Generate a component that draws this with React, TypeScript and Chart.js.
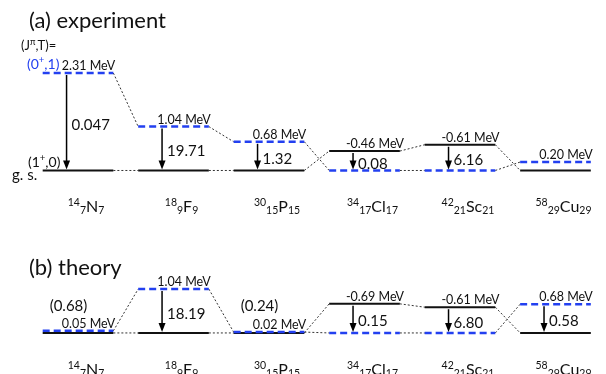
import React, { useEffect, useRef } from 'react';
import { Chart, registerables } from 'chart.js';
Chart.register(...registerables);

// ---- data ----
const MASS = ['14', '18', '30', '34', '42', '58'];
const Z_NUM = ['7', '9', '15', '17', '21', '29'];
const SYMBOL = ['N', 'F', 'P', 'Cl', 'Sc', 'Cu'];
const N_NUM = ['7', '9', '15', '17', '21', '29'];

// experiment: excitation of (0+,1) and (1+,0) states above the lower one (MeV)
const EXP_T1 = [2.31, 1.04, 0.68, 0, 0, 0.2];
const EXP_T0 = [0, 0, 0, 0.46, 0.61, 0];
const EXP_LABEL = ['2.31 MeV', '1.04 MeV', '0.68 MeV', '-0.46 MeV', '-0.61 MeV', '0.20 MeV'];
const EXP_BM1 = ['0.047', '19.71', '1.32', '0.08', '6.16', ''];

// theory
const TH_T1 = [0.05, 1.04, 0.02, 0, 0, 0.68];
const TH_T0 = [0, 0, 0, 0.69, 0.61, 0];
const TH_LABEL = ['0.05 MeV', '1.04 MeV', '0.02 MeV', '-0.69 MeV', '-0.61 MeV', '0.68 MeV'];
const TH_BM1 = ['', '18.19', '', '0.15', '6.80', '0.58'];
const TH_BM1_NOTE = ['(0.68)', '', '(0.24)', '', '', ''];

// ---- layout constants ----
const W = 606;
const H = 374;
const HW = 0.37;
const X_MIN = -0.817;
const X_MAX = 5.529;
const Y_MAX = 4.04;
const Y_MIN = -4.823;
const OFFSET_B = -3.85;
const BLUE = '#2340f0';
const FONT = 'Lato, "Open Sans", sans-serif';

type Part = { t: string; size: number; dy?: number };

function drawRich(ctx: CanvasRenderingContext2D, parts: Part[], x: number, y: number, align: 'left' | 'center') {
  let total = 0;
  const widths = parts.map((p) => {
    ctx.font = `${p.size}px ${FONT}`;
    const w = ctx.measureText(p.t).width;
    total += w;
    return w;
  });
  let cx = align === 'center' ? x - total / 2 : x;
  ctx.textAlign = 'left';
  ctx.textBaseline = 'alphabetic';
  parts.forEach((p, i) => {
    ctx.font = `${p.size}px ${FONT}`;
    ctx.fillText(p.t, cx, y + (p.dy || 0));
    cx += widths[i];
  });
}

function panelDatasets(t1: number[], t0: number[], off: number) {
  const ds: any[] = [];
  for (let i = 0; i < t1.length; i++) {
    ds.push({
      data: [{ x: i - HW, y: t0[i] + off }, { x: i + HW, y: t0[i] + off }],
      borderColor: '#111111',
      borderWidth: 2,
      order: 1,
    });
    ds.push({
      data: [{ x: i - HW, y: t1[i] + off }, { x: i + HW, y: t1[i] + off }],
      borderColor: BLUE,
      borderWidth: 2.5,
      borderDash: [7, 4],
      order: 0,
    });
    if (i < t1.length - 1) {
      ds.push({
        data: [{ x: i + HW, y: t1[i] + off }, { x: i + 1 - HW, y: t1[i + 1] + off }],
        borderColor: '#333333',
        borderWidth: 1,
        borderDash: [2, 2],
        order: 2,
      });
      ds.push({
        data: [{ x: i + HW, y: t0[i] + off }, { x: i + 1 - HW, y: t0[i + 1] + off }],
        borderColor: '#333333',
        borderWidth: 1,
        borderDash: [2, 2],
        order: 2,
      });
    }
  }
  return ds;
}

function drawArrow(ctx: CanvasRenderingContext2D, x: number, y0: number, y1: number) {
  ctx.save();
  ctx.strokeStyle = '#000';
  ctx.fillStyle = '#000';
  ctx.lineWidth = 1.5;
  ctx.beginPath();
  ctx.moveTo(x, y0);
  ctx.lineTo(x, y1 - 8);
  ctx.stroke();
  ctx.beginPath();
  ctx.moveTo(x, y1);
  ctx.lineTo(x - 3.5, y1 - 9);
  ctx.lineTo(x + 3.5, y1 - 9);
  ctx.closePath();
  ctx.fill();
  ctx.restore();
}

const annotate = {
  id: 'annotate',
  afterDatasetsDraw(chart: any) {
    const { ctx } = chart;
    const xs = chart.scales.x;
    const ys = chart.scales.y;
    ctx.save();
    ctx.fillStyle = '#111';

    const panel = (t1: number[], t0: number[], off: number, labels: string[], bm1: string[], notes: string[]) => {
      for (let i = 0; i < t1.length; i++) {
        const cx = xs.getPixelForValue(i);
        const up = Math.max(t1[i], t0[i]) + off;
        const lo = Math.min(t1[i], t0[i]) + off;
        const yUp = ys.getPixelForValue(up);
        const yLo = ys.getPixelForValue(lo);
        // energy label
        ctx.fillStyle = '#111';
        ctx.font = `12.5px ${FONT}`;
        ctx.textAlign = 'center';
        ctx.textBaseline = 'alphabetic';
        ctx.fillText(labels[i], xs.getPixelForValue(i + 0.11), yUp - 3);
        // arrow + B(M1)
        if (bm1[i]) {
          const ax = xs.getPixelForValue(i - 0.12);
          drawArrow(ctx, ax, yUp + 2, yLo - 1);
          ctx.font = `15px ${FONT}`;
          ctx.textAlign = 'left';
          ctx.textBaseline = 'middle';
          ctx.fillText(bm1[i], ax + 5, (yUp + yLo) / 2 + 3);
        }
        if (notes[i]) {
          ctx.font = `15px ${FONT}`;
          ctx.textAlign = 'center';
          ctx.textBaseline = 'middle';
          ctx.fillText(notes[i], xs.getPixelForValue(i - 0.1), ys.getPixelForValue(off) - 27);
        }
        // nucleus label
        const ny = ys.getPixelForValue(off) + 42;
        drawRich(
          ctx,
          [
            { t: MASS[i], size: 10.5, dy: -6 },
            { t: Z_NUM[i], size: 10.5, dy: 2 },
            { t: SYMBOL[i], size: 16 },
            { t: N_NUM[i], size: 10.5, dy: 2 },
          ],
          cx + 8,
          ny,
          'center'
        );
      }
    };

    panel(EXP_T1, EXP_T0, 0, EXP_LABEL, EXP_BM1, ['', '', '', '', '', '']);
    panel(TH_T1, TH_T0, OFFSET_B, TH_LABEL, TH_BM1, TH_BM1_NOTE);

    // headers
    ctx.fillStyle = '#111';
    ctx.font = `22px ${FONT}`;
    ctx.textAlign = 'left';
    ctx.textBaseline = 'middle';
    ctx.fillText('(a) experiment', 29, 21);
    ctx.fillText('(b) theory', 29, 268);

    drawRich(ctx, [{ t: '(J', size: 13 }, { t: 'π', size: 9, dy: -5 }, { t: ',T)=', size: 13 }], 21, 50, 'left');
    ctx.fillStyle = BLUE;
    drawRich(ctx, [{ t: '(0', size: 14 }, { t: '+', size: 9.5, dy: -6 }, { t: ',1)', size: 14 }], 27, 69, 'left');
    ctx.fillStyle = '#111';
    drawRich(ctx, [{ t: '(1', size: 14 }, { t: '+', size: 9.5, dy: -6 }, { t: ',0)', size: 14 }], 28, 167, 'left');
    drawRich(ctx, [{ t: 'g. s.', size: 15 }], 12, 180, 'left');
    ctx.restore();
  },
};

export default function App() {
  const ref = useRef<HTMLCanvasElement | null>(null);
  useEffect(() => {
    if (!ref.current) return;
    const chart = new Chart(ref.current, {
      type: 'scatter',
      data: {
        datasets: [
          ...panelDatasets(EXP_T1, EXP_T0, 0),
          ...panelDatasets(TH_T1, TH_T0, OFFSET_B),
        ].map((d) => ({ ...d, showLine: true, pointRadius: 0, pointHoverRadius: 0, fill: false })),
      },
      options: {
        responsive: false,
        animation: false,
        devicePixelRatio: 1,
        layout: { padding: 0 },
        plugins: { legend: { display: false }, tooltip: { enabled: false } },
        scales: {
          x: { type: 'linear', min: X_MIN, max: X_MAX, display: false },
          y: { type: 'linear', min: Y_MIN, max: Y_MAX, display: false },
        },
      },
      plugins: [annotate],
    });
    return () => chart.destroy();
  }, []);
  return (
    <div style={{ position: 'fixed', left: 0, top: 0, width: W, height: H, background: '#fff' }}>
      <canvas ref={ref} width={W} height={H} style={{ display: 'block' }} />
    </div>
  );
}
